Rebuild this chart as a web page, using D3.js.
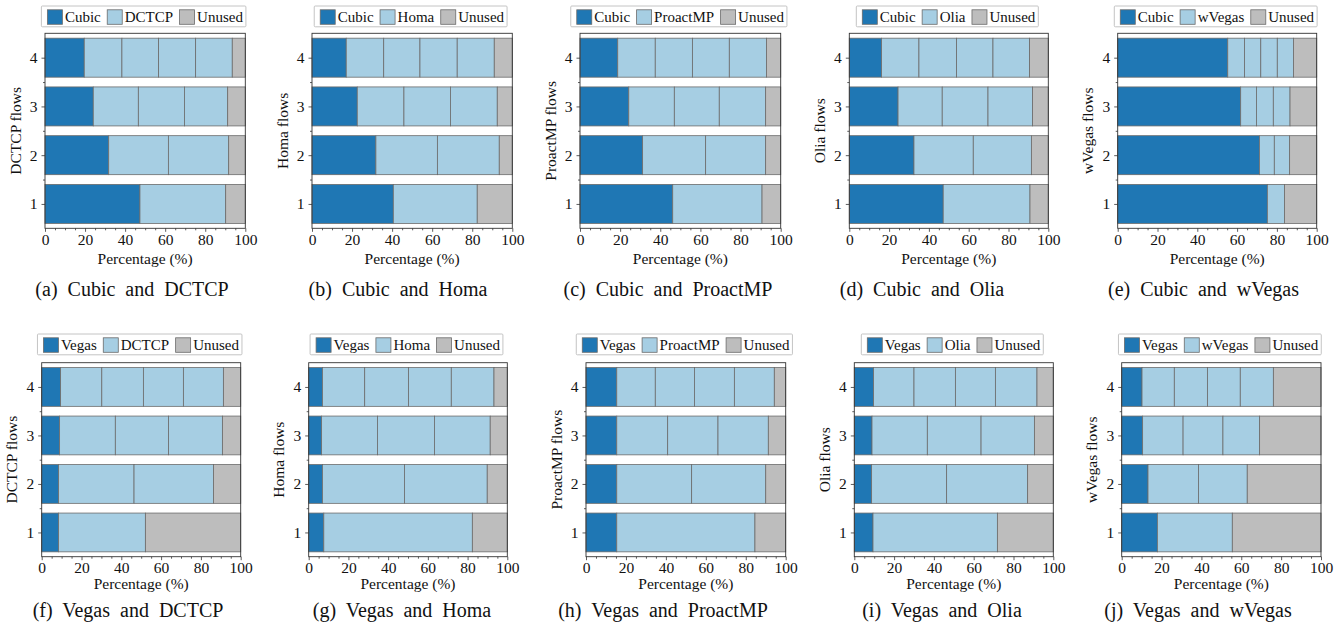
<!DOCTYPE html>
<html><head><meta charset="utf-8">
<script src="https://cdn.jsdelivr.net/npm/d3@7"></script>
<style>
body{margin:0;background:#fff}
svg{display:block}
svg text{font-family:"Liberation Serif","Times New Roman","DejaVu Serif",serif}
</style>
</head><body><svg id="c" width="1343" height="635"></svg>
<script>
// ---------- data ----------
const flows = [1, 2, 3, 4];
const xTicks = [0, 20, 40, 60, 80, 100];
const xMinorTicks = [5, 10, 15, 25, 30, 35, 45, 50, 55, 65, 70, 75, 85, 90, 95];
const yMinorTicks = [1.5, 2.5, 3.5];
const panelLetters = ["a", "b", "c", "d", "e", "f", "g", "h", "i", "j"];
const firstProtocol = ["Cubic", "Cubic", "Cubic", "Cubic", "Cubic", "Vegas", "Vegas", "Vegas", "Vegas", "Vegas"];
const secondProtocol = ["DCTCP", "Homa", "ProactMP", "Olia", "wVegas", "DCTCP", "Homa", "ProactMP", "Olia", "wVegas"];
const unusedLabel = "Unused";

// shares (%) per bar: [first protocol, second-protocol flow 1, flow 2, ...]; rest is unused
const cubicDCTCP   = [[47.4, 42.8], [31.8, 29.8, 30.1], [24.1, 22.5, 23.0, 21.6], [19.6, 18.8, 18.3, 18.5, 18.3]];
const cubicHoma    = [[40.6, 41.9], [31.9, 30.7, 30.9], [22.6, 23.3, 23.2, 23.4], [17.1, 18.7, 18.1, 18.6, 18.5]];
const cubicProact  = [[46.2, 44.5], [31.2, 31.4, 29.9], [24.3, 22.7, 22.4, 23.1], [18.8, 18.7, 18.5, 18.4, 18.5]];
const cubicOlia    = [[47.2, 43.6], [32.5, 29.8, 29.2], [24.5, 22.2, 23.0, 22.4], [16.2, 18.8, 18.9, 18.3, 18.4]];
const cubicWVegas  = [[75.2, 8.6], [71.2, 7.5, 7.7], [61.8, 7.9, 8.5, 8.4], [55.3, 8.4, 8.2, 8.3, 8.1]];
const vegasDCTCP   = [[8.5, 43.6], [8.5, 37.9, 39.9], [9.0, 28.0, 26.7, 27.1], [9.5, 20.7, 20.9, 20.1, 20.1]];
const vegasHoma    = [[7.6, 74.8], [6.9, 41.3, 41.7], [6.5, 28.1, 28.7, 28.1], [6.9, 21.3, 22.0, 21.6, 21.5]];
const vegasProact  = [[15.4, 69.2], [15.4, 37.5, 37.1], [15.4, 25.5, 25.2, 25.2], [15.4, 19.3, 19.6, 20.0, 20.0]];
const vegasOlia    = [[9.4, 62.5], [8.7, 37.7, 40.7], [8.9, 27.8, 27.0, 26.8], [9.7, 20.3, 20.8, 20.1, 20.9]];
const vegasWVegas  = [[17.9, 37.6], [13.2, 25.3, 24.5], [10.5, 20.3, 20.0, 18.4], [10.2, 16.2, 16.6, 16.5, 16.6]];
const panelShares = [cubicDCTCP, cubicHoma, cubicProact, cubicOlia, cubicWVegas,
                     vegasDCTCP, vegasHoma, vegasProact, vegasOlia, vegasWVegas];

// ---------- layout / style ----------
const FONT = '"Liberation Serif","Times New Roman","DejaVu Serif",serif';
const colors = {first: "#1f77b4", second: "#a6cee3", unused: "#bdbdbd"};
const rows = [
  {plotTop: 33.3, plotBottom: 228.3, legendY: 6, xlabelY: 263.5, captionY: 296},
  {plotTop: 362.7, plotBottom: 556.7, legendY: 334, xlabelY: 589, captionY: 617}
];
const panelsLayout = [
  {x0: 45, x1: 245.3, row: 0, cap: 132},
  {x0: 312, x1: 512.3, row: 0, cap: 398},
  {x0: 580, x1: 780.7, row: 0, cap: 668},
  {x0: 849.3, x1: 1048.3, row: 0, cap: 922},
  {x0: 1117.7, x1: 1316.7, row: 0, cap: 1203.5},
  {x0: 41.7, x1: 240.7, row: 1, cap: 128},
  {x0: 308.7, x1: 507.3, row: 1, cap: 402},
  {x0: 586, x1: 785.7, row: 1, cap: 663},
  {x0: 854.3, x1: 1053.3, row: 1, cap: 942},
  {x0: 1121.7, x1: 1321, row: 1, cap: 1198}
];

const svg = d3.select("#c");
const tickFont = 15.5;

panelsLayout.forEach((L, p) => {
  const R = rows[L.row];
  const g = svg.append("g");
  const x = d3.scaleLinear().domain([0, 100]).range([L.x0, L.x1]);
  const y = d3.scaleLinear().domain([0.5, 4.5]).range([R.plotBottom, R.plotTop]);
  const barH = 0.8;

  // bars
  panelShares[p].forEach((shares, i) => {
    const n = flows[i];
    let acc = 0;
    const segs = [];
    shares.forEach((v, k) => {
      segs.push({s: acc, e: acc + v, type: k === 0 ? "first" : "second"});
      acc += v;
    });
    segs.push({s: acc, e: 100, type: "unused"});
    g.selectAll(null).data(segs).enter().append("rect")
      .attr("x", d => x(d.s))
      .attr("width", d => Math.max(0, x(d.e) - x(d.s)))
      .attr("y", y(n + barH / 2))
      .attr("height", y(n - barH / 2) - y(n + barH / 2))
      .attr("fill", d => colors[d.type])
      .attr("stroke", "#6b6b6b")
      .attr("stroke-width", 0.8);
  });

  // axes
  const xa = g.append("g").attr("transform", `translate(0,${R.plotBottom})`)
    .call(d3.axisBottom(x).tickValues(xTicks).tickSize(3.5).tickSizeOuter(0).tickPadding(2));
  const xm = g.append("g").attr("transform", `translate(0,${R.plotBottom})`)
    .call(d3.axisBottom(x).tickValues(xMinorTicks).tickSize(2).tickSizeOuter(0).tickFormat(""));
  const ya = g.append("g").attr("transform", `translate(${L.x0},0)`)
    .call(d3.axisLeft(y).tickValues(flows).tickFormat(d3.format("d")).tickSize(3.5).tickSizeOuter(0).tickPadding(4));
  const ym = g.append("g").attr("transform", `translate(${L.x0},0)`)
    .call(d3.axisLeft(y).tickValues(yMinorTicks).tickSize(2).tickSizeOuter(0).tickFormat(""));
  [xa, xm, ya, ym].forEach(a => {
    a.attr("font-family", FONT);
    a.select(".domain").remove();
    a.selectAll("line").attr("stroke", "#333").attr("stroke-width", 0.8);
    a.selectAll("text").attr("font-size", tickFont).attr("fill", "#111").attr("font-family", FONT);
  });

  // frame
  g.append("rect").attr("x", L.x0).attr("y", R.plotTop)
    .attr("width", L.x1 - L.x0).attr("height", R.plotBottom - R.plotTop)
    .attr("fill", "none").attr("stroke", "#333").attr("stroke-width", 0.9);

  // axis labels
  g.append("text").attr("x", (L.x0 + L.x1) / 2).attr("y", R.xlabelY)
    .attr("text-anchor", "middle").attr("font-size", tickFont).attr("fill", "#111")
    .attr("font-family", FONT).text("Percentage (%)");
  const cy = (R.plotTop + R.plotBottom) / 2;
  g.append("text").attr("transform", `translate(${L.x0 - 24.5},${cy}) rotate(-90)`)
    .attr("text-anchor", "middle").attr("font-size", tickFont).attr("fill", "#111")
    .attr("font-family", FONT).text(secondProtocol[p] + " flows");

  // caption
  g.append("text").attr("x", L.cap).attr("y", R.captionY)
    .attr("text-anchor", "middle").attr("font-size", 20).attr("fill", "#111")
    .attr("font-family", FONT).attr("word-spacing", 5)
    .text(`(${panelLetters[p]}) ${firstProtocol[p]} and ${secondProtocol[p]}`);

  // legend
  const items = [
    {label: firstProtocol[p], color: colors.first},
    {label: secondProtocol[p], color: colors.second},
    {label: unusedLabel, color: colors.unused}
  ];
  const lg = g.append("g");
  const box = lg.append("rect");
  let cx = 6;
  const sw = 15, swGap = 2.5, colGap = 6.5, rightPad = 3;
  items.forEach((it, k) => {
    lg.append("rect").attr("x", cx).attr("y", 3.8).attr("width", sw).attr("height", 14.5)
      .attr("fill", it.color).attr("stroke", "#6b6b6b").attr("stroke-width", 0.8);
    const t = lg.append("text").attr("x", cx + sw + swGap).attr("y", 16)
      .attr("font-size", 15).attr("fill", "#111").attr("font-family", FONT).text(it.label);
    const w = t.node().getComputedTextLength();
    cx += sw + swGap + w + (k < items.length - 1 ? colGap : rightPad);
  });
  box.attr("x", 0).attr("y", 0).attr("width", cx).attr("height", 20.8)
    .attr("fill", "#fff").attr("stroke", "#c4c4c4").attr("stroke-width", 1).attr("rx", 1);
  const center = (L.x0 + L.x1) / 2 - 1.5;
  lg.attr("transform", `translate(${center - cx / 2},${R.legendY})`);
});
</script>
</body></html>
